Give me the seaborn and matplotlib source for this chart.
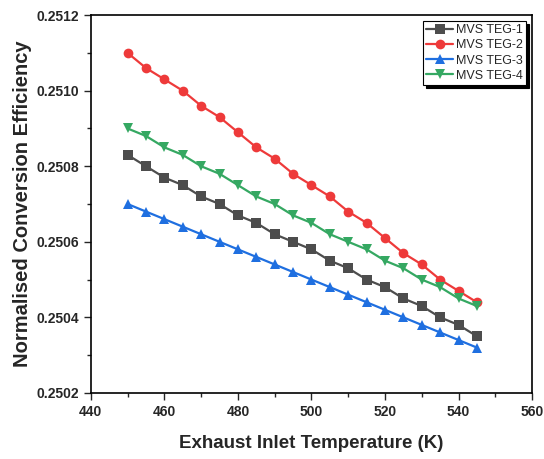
import pandas as pd
import matplotlib
import matplotlib.pyplot as plt
import seaborn as sns

matplotlib.use('Agg')

# Exhaust inlet temperature (K)
temperature = list(range(450, 550, 5))

teg1 = [0.25083, 0.25080, 0.25077, 0.25075, 0.25072, 0.25070, 0.25067, 0.25065, 0.25062, 0.25060,
        0.25058, 0.25055, 0.25053, 0.25050, 0.25048, 0.25045, 0.25043, 0.25040, 0.25038, 0.25035]
teg2 = [0.25110, 0.25106, 0.25103, 0.25100, 0.25096, 0.25093, 0.25089, 0.25085, 0.25082, 0.25078,
        0.25075, 0.25072, 0.25068, 0.25065, 0.25061, 0.25057, 0.25054, 0.25050, 0.25047, 0.25044]
teg3 = [0.25070, 0.25068, 0.25066, 0.25064, 0.25062, 0.25060, 0.25058, 0.25056, 0.25054, 0.25052,
        0.25050, 0.25048, 0.25046, 0.25044, 0.25042, 0.25040, 0.25038, 0.25036, 0.25034, 0.25032]
teg4 = [0.25090, 0.25088, 0.25085, 0.25083, 0.25080, 0.25078, 0.25075, 0.25072, 0.25070, 0.25067,
        0.25065, 0.25062, 0.25060, 0.25058, 0.25055, 0.25053, 0.25050, 0.25048, 0.25045, 0.25043]

series_names = ['MVS TEG-1', 'MVS TEG-2', 'MVS TEG-3', 'MVS TEG-4']
colors = ['#4d4d4d', '#ee3a3a', '#1f6fe0', '#35a862']
markers = ['s', 'o', '^', 'v']

xticks = [440, 460, 480, 500, 520, 540, 560]
yticks = [0.2502, 0.2504, 0.2506, 0.2508, 0.2510, 0.2512]
ytick_labels = ['0.2502', '0.2504', '0.2506', '0.2508', '0.2510', '0.2512']

df = pd.DataFrame({'T': temperature * 4,
                   'eff': teg1 + teg2 + teg3 + teg4,
                   'series': [n for n in series_names for _ in temperature]})

sns.set_style('ticks')
plt.rcParams['font.family'] = ['Liberation Sans', 'DejaVu Sans']
# bold everywhere except the legend
plt.rcParams['font.weight'] = 'bold'

fig = plt.figure(figsize=(5.44, 4.59), dpi=100)
ax = fig.add_axes([0.167, 0.144, 0.811, 0.823])

sns.lineplot(data=df, x='T', y='eff', hue='series', style='series',
             palette=colors, markers=markers, dashes=False, markersize=7,
             markeredgewidth=0, linewidth=1.6, ax=ax)

ax.set_xlim(440, 560)
ax.set_ylim(0.2502, 0.2512)
ax.set_xticks(xticks)
ax.set_xticklabels([str(t) for t in xticks])
ax.set_xticks(range(450, 560, 20), minor=True)
ax.set_yticks(yticks)
ax.set_yticklabels(ytick_labels)
ax.set_yticks([0.2503, 0.2505, 0.2507, 0.2509, 0.2511], minor=True)
ax.tick_params(which='major', length=5, width=1, labelsize=10)
ax.tick_params(which='minor', length=3, width=1)
for sp in ax.spines.values():
    sp.set_linewidth(1.2)
    sp.set_color('black')

ax.set_xlabel('Exhaust Inlet Temperature (K)', fontsize=13.5, fontweight='bold')
ax.set_ylabel('Normalised Conversion Efficiency', fontsize=14.5, fontweight='bold')
ax.xaxis.set_label_coords(0.5, -0.111)
ax.yaxis.set_label_coords(-0.134, 0.5)

leg = ax.legend(loc='upper right', bbox_to_anchor=(0.986, 0.984),
                prop={'size': 9, 'weight': 'normal'},
                frameon=True, fancybox=False, shadow={'color': 'black', 'alpha': 1},
                edgecolor='black', borderpad=0.25, labelspacing=0.25, handlelength=2.2,
                handletextpad=0.2, borderaxespad=0)
leg.get_frame().set_linewidth(0.8)

plt.savefig('out.png', dpi=100)
